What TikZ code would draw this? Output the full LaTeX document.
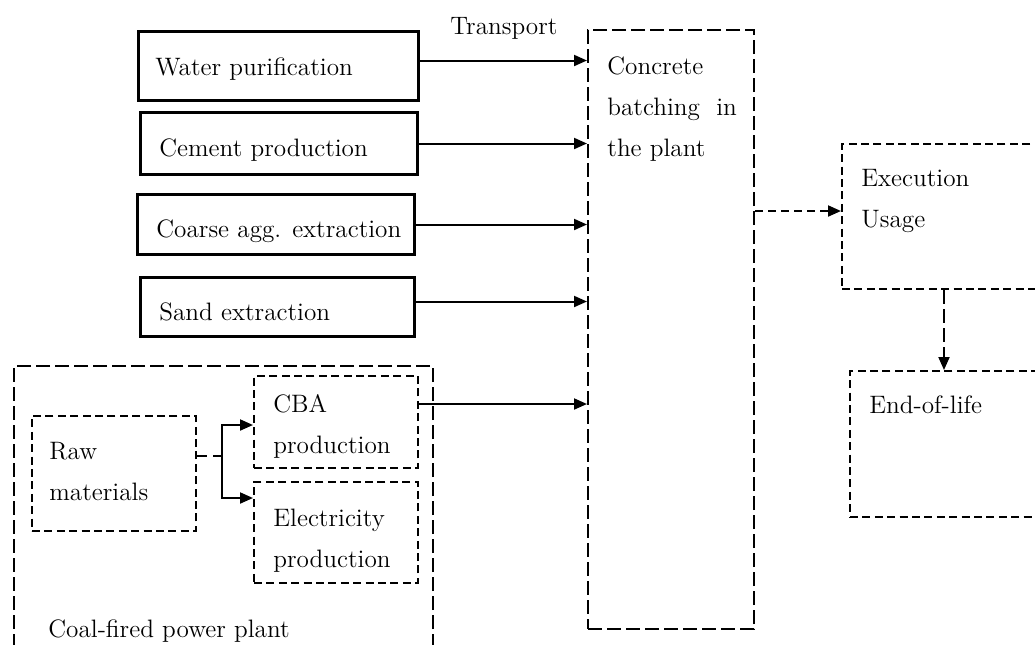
\documentclass[tikz,border=0pt]{standalone}
\usetikzlibrary{arrows.meta}

\tikzset{
  solidbox/.style={draw,line width=1.5pt,anchor=north west,inner sep=0pt},
  dashbox/.style={draw,line width=1pt,anchor=north west,inner sep=0pt,dash pattern=on 4pt off 2.2pt},
  longbox/.style={dashbox,dash pattern=on 7pt off 2.5pt},
  txt/.style={anchor=base west,inner sep=0pt,align=left,font=\fontsize{12.6}{20.5}\selectfont},
  arr/.style={-{Triangle[length=6.5pt,width=5.5pt]},line width=1pt},
}

\begin{document}
\begin{tikzpicture}[x=0.5pt,y=-0.5pt]
\useasboundingbox (0,0) rectangle (1035,644);
\clip (0,0) rectangle (1035,644);

%%%%%%%%%%%%%%%%%%%%%%%%%% inputs
\node [solidbox,minimum width=140pt,minimum height=34.5pt] (water) at (137,30) {};
\node [txt] (water-t) at ([xshift=9pt,yshift=-22.5pt]water.north west) {Water purification};

\node [solidbox,minimum width=138.5pt,minimum height=31pt] (cement) at (139,111) {};
\node [txt] (cement-t) at ([xshift=10pt,yshift=-22.5pt]cement.north west) {Cement production};

\node [solidbox,minimum width=138.5pt,minimum height=30pt] (coarse) at (136,193) {};
\node [txt] (coarse-t) at ([xshift=10pt,yshift=-22pt]coarse.north west) {Coarse agg. extraction};

\node [solidbox,minimum width=137pt,minimum height=29.5pt] (sand) at (139,276) {};
\node [txt] (sand-t) at ([xshift=10pt,yshift=-22pt]sand.north west) {Sand extraction};

\node [txt,anchor=base] (transport) at (504,34) {Transport};

%%%%%%%%%%%%%%%%%%%%%%%%%% batching (base = last line)
\node [longbox,minimum width=83pt,minimum height=299.5pt] (conc) at (587,29) {};
\node [txt] (conc-t) at ([xshift=10pt,yshift=-63.5pt]conc.north west) {Concrete\\batching\ \ in\\the plant};

%%%%%%%%%%%%%%%%%%%%%%%%%% use and end-of-life
\node [dashbox,minimum width=110pt,minimum height=72.5pt] (exec) at (841,143) {};
\node [txt] (exec-t) at ([xshift=10pt,yshift=-42pt]exec.north west) {Execution\\Usage};

\node [dashbox,minimum width=110pt,minimum height=73pt] (eol) at (849,370) {};
\node [txt] (eol-t) at ([xshift=10pt,yshift=-21.5pt]eol.north west) {End-of-life};

%%%%%%%%%%%%%%%%%%%%%%%%%% power plant
\node [longbox,minimum width=209.5pt,minimum height=150pt] (coal) at (13,365) {};
\node [txt] (coal-t) at (48,637) {Coal-fired power plant};

\node [dashbox,minimum width=82pt,minimum height=57.5pt] (raw) at (31,415) {};
\node [txt] (raw-t) at ([xshift=9pt,yshift=-42.5pt]raw.north west) {Raw\\materials};

\node [dashbox,minimum width=82pt,minimum height=46pt] (cba) at (253,375) {};
\node [txt] (cba-t) at ([xshift=10pt,yshift=-39pt]cba.north west) {CBA\\production};

\node [dashbox,minimum width=82pt,minimum height=50.5pt] (elec) at (253,481) {};
\node [txt] (elec-t) at ([xshift=10pt,yshift=-43pt]elec.north west) {Electricity\\production};

%%%%%%%%%%%%%%%%%%%%%%%%%% connectors
\coordinate (w-out) at ([yshift=2.75pt]water.east);
\draw [arr] (w-out) -- (w-out -| conc.west);
\draw [arr] (cement.east) -- (cement.east -| conc.west);
\draw [arr] (coarse.east) -- (coarse.east -| conc.west);
\coordinate (s-out) at ([yshift=2.75pt]sand.east);
\draw [arr] (s-out) -- (s-out -| conc.west);
\coordinate (c-out) at ([yshift=9pt]cba.east);
\draw [arr] (c-out) -- (c-out -| conc.west);

\coordinate (e-in) at ([yshift=2.75pt]exec.west);
\draw [arr,dash pattern=on 4pt off 2.5pt] (e-in -| conc.east) -- (e-in);
\coordinate (u-out) at ([xshift=51.5pt]exec.south west);
\draw [arr,dash pattern=on 7pt off 2.5pt] (u-out) -- (u-out |- eol.north);

\coordinate (r-out) at ([yshift=8.75pt]raw.east);
\coordinate (fork) at ([xshift=12.5pt]r-out);
\draw [line width=1pt,dash pattern=on 5pt off 3pt] (r-out) -- (fork);
\draw [arr] (fork) |- ([yshift=-1.5pt]cba.west);
\draw [arr] (fork) |- ([yshift=17.25pt]elec.west);

\end{tikzpicture}
\end{document}
